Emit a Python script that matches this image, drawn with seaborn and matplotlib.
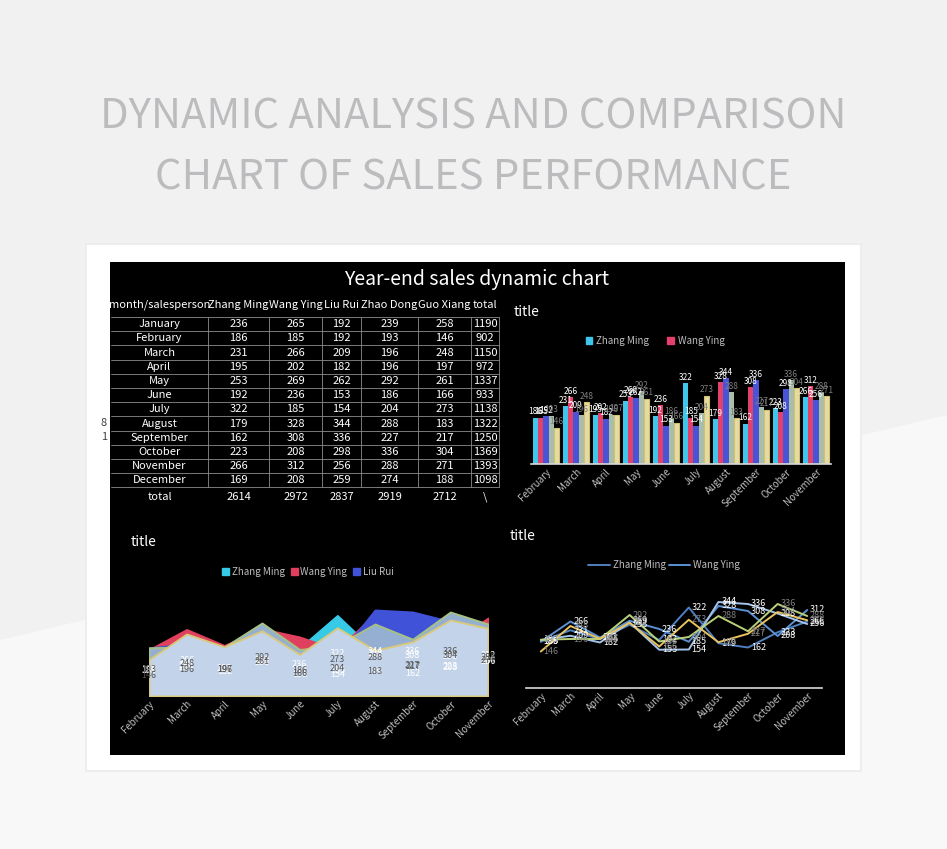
import pandas as pd
import matplotlib.pyplot as plt
from matplotlib.patches import Rectangle, Polygon
from matplotlib.lines import Line2D
import seaborn as sns

sns.set_style('white')
plt.rcParams['font.family'] = ['Noto Sans CJK SC', 'DejaVu Sans']

# -------------------------------------------
# data
# -------------------------------------------
months = ['January', 'February', 'March', 'April', 'May', 'June', 'July',
          'August', 'September', 'October', 'November', 'December']
people = ['Zhang Ming', 'Wang Ying', 'Liu Rui', 'Zhao Dong', 'Guo Xiang']

zhang_ming = [236, 186, 231, 195, 253, 192, 322, 179, 162, 223, 266, 169]
wang_ying = [265, 185, 266, 202, 269, 236, 185, 328, 308, 208, 312, 208]
liu_rui = [192, 192, 209, 182, 262, 153, 154, 344, 336, 298, 256, 259]
zhao_dong = [239, 193, 196, 196, 292, 186, 204, 288, 227, 336, 288, 274]
guo_xiang = [258, 146, 248, 197, 261, 166, 273, 183, 217, 304, 271, 188]

month_totals = [1190, 902, 1150, 972, 1337, 933, 1138, 1322, 1250, 1369, 1393, 1098]
person_totals = [2614, 2972, 2837, 2919, 2712]

# the three charts only show February..November
chart_months = months[1:11]

sales = pd.DataFrame({'month': months, 'Zhang Ming': zhang_ming, 'Wang Ying': wang_ying,
                      'Liu Rui': liu_rui, 'Zhao Dong': zhao_dong, 'Guo Xiang': guo_xiang})
chart = sales.iloc[1:11].reset_index(drop=True)
long = chart.melt(id_vars='month', var_name='person', value_name='sales')
long['pos'] = long['month'].map({m: i for i, m in enumerate(chart_months)})

bar_colors = ['#3fc6ea', '#e2416b', '#4853d6', '#a9bea9', '#e4dbab']
area_fill = ['#37cae6', '#e0405e', '#3f52d8', '#94afd2', '#c3d4ea']
area_edge = ['#37cae6', '#e0405e', '#3f52d8', '#a6c283', '#d8c97c']
line_colors = ['#4f80c0', '#5b90d2', '#a3c3ea', '#b9d27a', '#e9c35f']
label_colors = ['white', 'white', 'white', '#7f7f7f', '#7f7f7f']
area_label_colors = ['white', 'white', 'white', '#555555', '#555555']
tick_color = '#bfbfbf'

# -------------------------------------------
# layout helpers (pixel boxes on a 947x849 canvas)
# -------------------------------------------
W, H = 947, 849


def px_box(x0, y0, x1, y1):
    return [x0 / W, 1 - y1 / H, (x1 - x0) / W, (y1 - y0) / H]


fig = plt.figure(figsize=(W / 100, H / 100), dpi=100, facecolor='#f1f1f2')

bg = fig.add_axes([0, 0, 1, 1])
bg.set_xlim(0, W)
bg.set_ylim(H, 0)
bg.axis('off')
bg.add_patch(Polygon([(0, 640), (W, 415), (W, H), (0, H)], color='#f8f8f9', lw=0))
bg.add_patch(Rectangle((85, 243), 777, 529, color='#ededef', lw=0))
bg.add_patch(Rectangle((87, 245), 773, 525, color='white', lw=0))
bg.add_patch(Rectangle((110, 262), 735, 493, color='black', lw=0))

bg.text(473, 117, 'DYNAMIC ANALYSIS AND COMPARISON', ha='center', va='center',
        fontsize=30, color='#bcbcbe', fontweight='light')
bg.text(473, 178, 'CHART OF SALES PERFORMANCE', ha='center', va='center',
        fontsize=30, color='#bcbcbe', fontweight='light')
bg.text(477, 279, 'Year-end sales dynamic chart', ha='center', va='center',
        fontsize=14, color='white')

# -------------------------------------------
# table
# -------------------------------------------
col_edges = [111, 208, 269, 322, 361, 418, 471, 499]
col_mid = [(a + b) / 2 for a, b in zip(col_edges[:-1], col_edges[1:])]
row_top, row_h = 317, 14.2
header = ['month/salesperson'] + people + ['total']
series = [zhang_ming, wang_ying, liu_rui, zhao_dong, guo_xiang]

for x, lab in zip(col_mid, header):
    bg.text(x, 305, lab, ha='center', va='center', fontsize=8, color='white')

for r, m in enumerate(months):
    y = row_top + row_h * (r + 0.5)
    cells = [m] + [s[r] for s in series] + [month_totals[r]]
    for x, val in zip(col_mid, cells):
        bg.text(x, y, str(val), ha='center', va='center', fontsize=8, color='white')

for k in range(13):
    y = row_top + row_h * k
    bg.plot([111, 499], [y, y], color='#8c8c8c', lw=0.6)
for x in col_edges[1:]:
    bg.plot([x, x], [row_top, row_top + row_h * 12], color='#8c8c8c', lw=0.6)

bottom_cells = ['total'] + person_totals + ['\\']
for x, val in zip(col_mid, bottom_cells):
    bg.text(x, 497, str(val), ha='center', va='center', fontsize=8, color='white')

bg.text(107, 423, '8', ha='right', va='center', fontsize=8, color='#404040')
bg.text(107, 437, '1', ha='right', va='center', fontsize=8, color='#404040')

# chart titles
bg.text(514, 312, 'title', ha='left', va='center', fontsize=10, color='white')
bg.text(131, 542, 'title', ha='left', va='center', fontsize=10, color='white')
bg.text(510, 536, 'title', ha='left', va='center', fontsize=10, color='white')


def style_axis(ax, baseline_color):
    ax.set_facecolor('none')
    for side in ['top', 'right', 'left']:
        ax.spines[side].set_visible(False)
    if baseline_color:
        ax.spines['bottom'].set_color(baseline_color)
        ax.spines['bottom'].set_linewidth(1.2)
    else:
        ax.spines['bottom'].set_visible(False)
    ax.set_yticks([])
    ax.set_xlabel('')
    ax.set_ylabel('')
    ax.set_ylim(0, 400)
    ax.tick_params(axis='x', length=0, pad=2)
    ax.set_xticks(range(len(chart_months)))
    ax.set_xticklabels(chart_months, rotation=45, ha='right', rotation_mode='anchor',
                       fontsize=7, color=tick_color)


# -------------------------------------------
# bar chart
# -------------------------------------------
ax1 = fig.add_axes(px_box(531, 364, 831, 464))
sns.barplot(data=long, x='month', y='sales', hue='person', order=chart_months,
            hue_order=people, palette=bar_colors, width=0.88, saturation=1,
            ax=ax1, legend=False, edgecolor='none', linewidth=0)
style_axis(ax1, '#d9d9d9')
ax1.set_xlim(-0.5, 9.5)
for i, cont in enumerate(ax1.containers):
    if i == 4:
        for b in cont:
            b.set_edgecolor('#d6c266')
            b.set_linewidth(0.8)
    ax1.bar_label(cont, fontsize=6, color=label_colors[i], padding=1)

fig.legend(handles=[Rectangle((0, 0), 1, 1, color=c) for c in bar_colors[:2]],
           labels=people[:2], loc='center', bbox_to_anchor=(655 / W, 1 - 341 / H),
           ncol=2, frameon=False, labelcolor=tick_color, fontsize=7,
           handlelength=0.7, handleheight=0.7, handletextpad=0.4, columnspacing=1.8)

# -------------------------------------------
# area chart
# -------------------------------------------
ax2 = fig.add_axes(px_box(149, 596, 488, 696))
xs = list(range(len(chart_months)))
for i, p in enumerate(people):
    ax2.fill_between(xs, chart[p], color=area_fill[i], edgecolor=area_edge[i], lw=1.4)
for i, p in enumerate(people):
    for x, v in zip(xs, chart[p]):
        ax2.text(x, v / 2 + 8, str(v), ha='center', va='center', fontsize=6.5,
                 color=area_label_colors[i])
style_axis(ax2, None)
ax2.set_xlim(0, 9)

fig.legend(handles=[Rectangle((0, 0), 1, 1, color=c) for c in area_fill[:3]],
           labels=people[:3], loc='center', bbox_to_anchor=(308 / W, 1 - 572 / H),
           ncol=3, frameon=False, labelcolor=tick_color, fontsize=7,
           handlelength=0.7, handleheight=0.7, handletextpad=0.3, columnspacing=0.6)

# -------------------------------------------
# line chart
# -------------------------------------------
ax3 = fig.add_axes(px_box(526, 588, 822, 688))
sns.lineplot(data=long, x='pos', y='sales', hue='person', hue_order=people,
             palette=line_colors, ax=ax3, legend=False, linewidth=1.4)
style_axis(ax3, '#d9d9d9')
ax3.set_xlim(-0.5, 9.5)
for i, p in enumerate(people):
    for x, v in zip(xs, chart[p]):
        ax3.annotate(str(v), (x, v), xytext=(2, 0), textcoords='offset points',
                     ha='left', va='center', fontsize=6.5, color=label_colors[i])

fig.legend(handles=[Line2D([], [], color=c, lw=1.4) for c in line_colors[:2]],
           labels=people[:2], loc='center', bbox_to_anchor=(664 / W, 1 - 565 / H),
           ncol=2, frameon=False, labelcolor=tick_color, fontsize=7,
           handlelength=2.2, handletextpad=0.3, columnspacing=0.3)

fig.savefig('out.png', dpi=100, facecolor=fig.get_facecolor())
